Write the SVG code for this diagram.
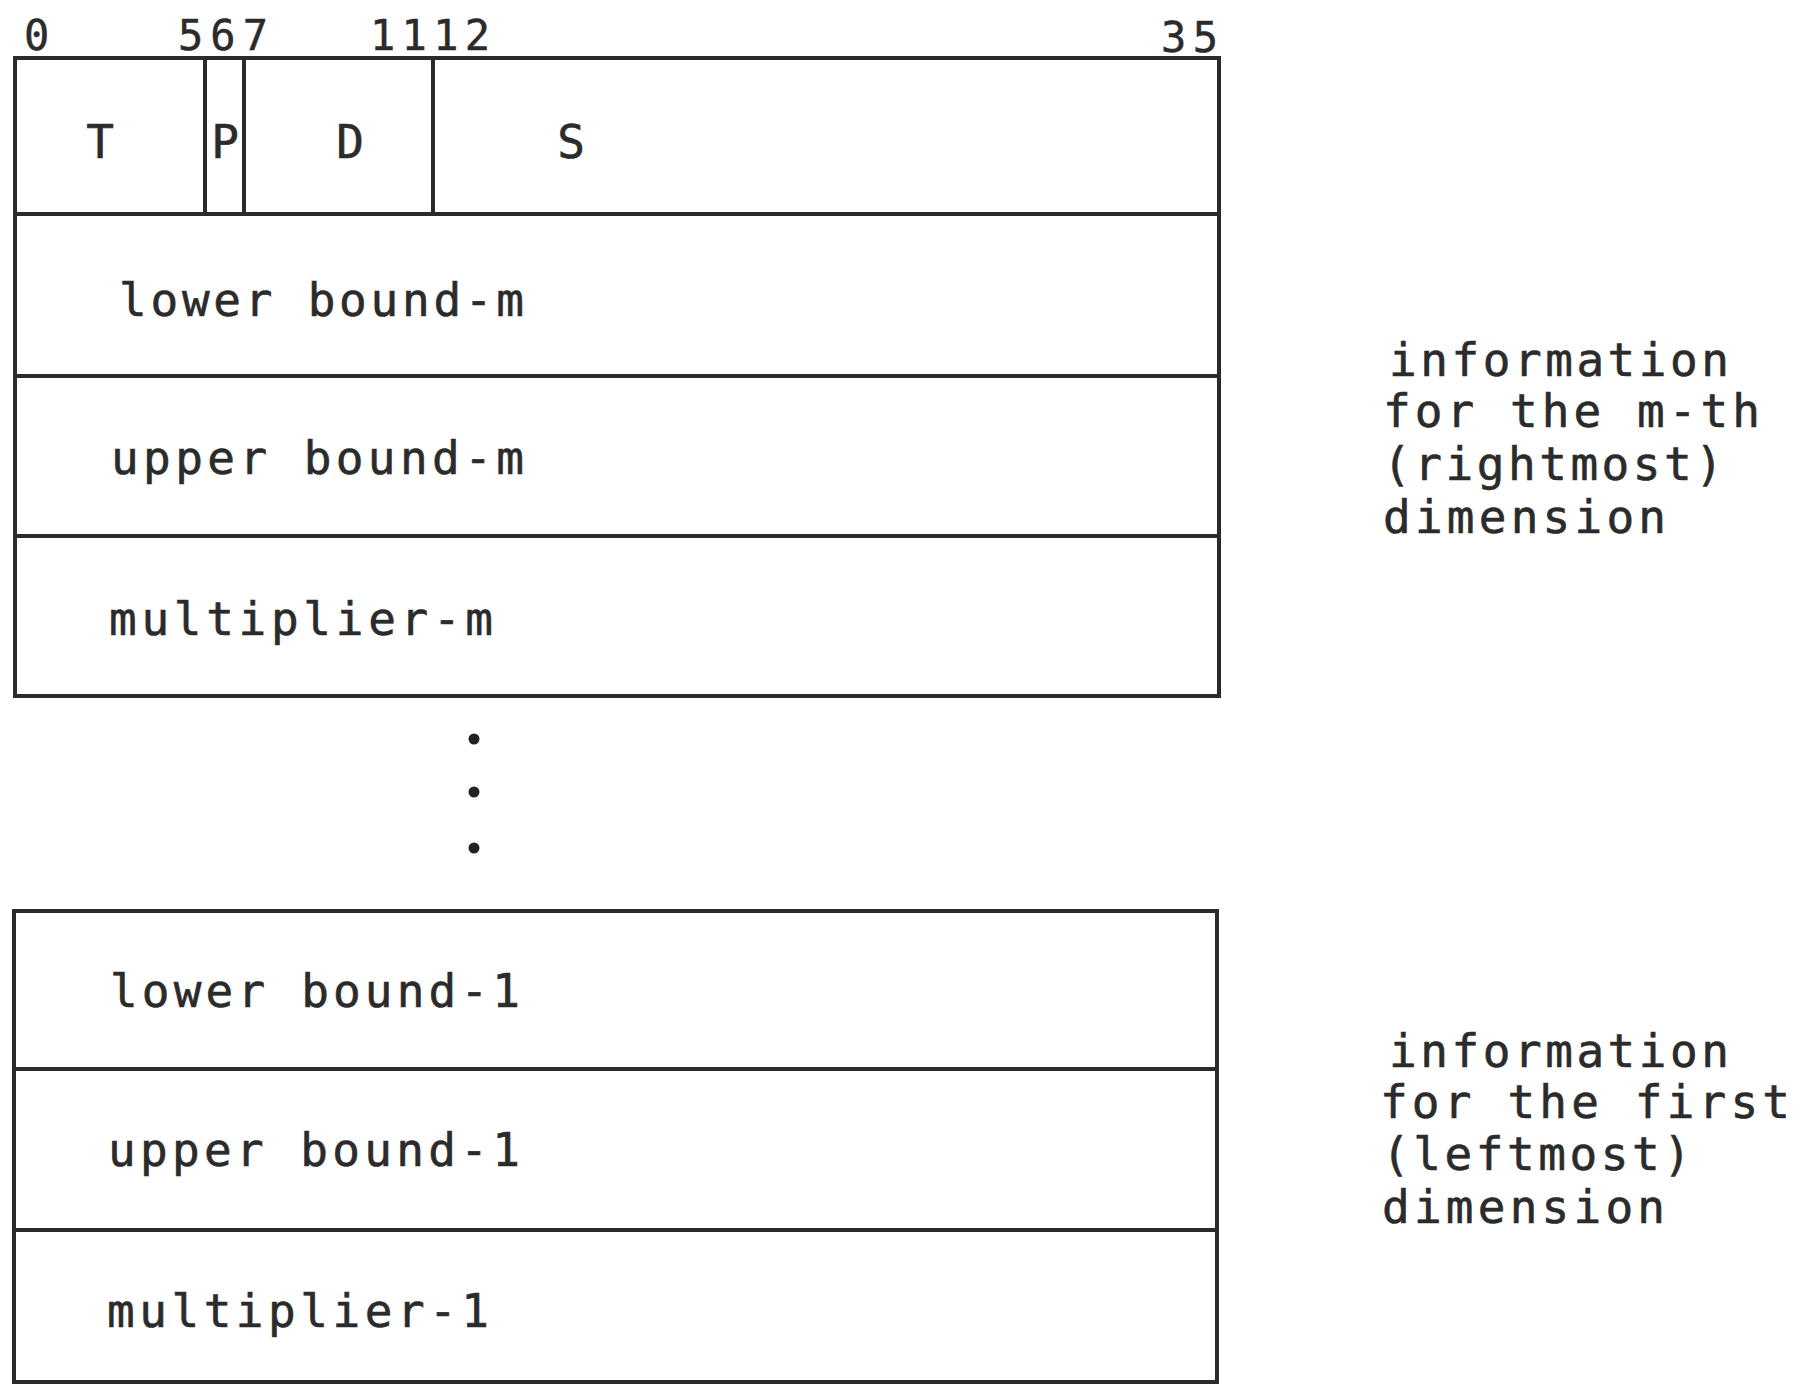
<svg xmlns="http://www.w3.org/2000/svg" width="1797" height="1384" viewBox="0 0 1797 1384">
<style>
.ln{stroke:#2b2b2b;stroke-width:4;fill:none}
.t{font-family:"DejaVu Sans Mono","Liberation Mono",monospace;font-size:46px;fill:#2b2b2b;stroke:#2b2b2b;stroke-width:0.6}
.n{font-family:"DejaVu Sans Mono","Liberation Mono",monospace;font-size:42px;fill:#2b2b2b;stroke:#2b2b2b;stroke-width:0.5}
.dot{fill:#222}
</style>
<rect width="1797" height="1384" fill="#ffffff"/>
<g id="bit-numbers">
<text class="n" x="24" y="50">0</text>
<text class="n" x="178" y="50" textLength="90" lengthAdjust="spacing">567</text>
<text class="n" x="370" y="50" textLength="120" lengthAdjust="spacing">1112</text>
<text class="n" x="1161" y="52" textLength="57" lengthAdjust="spacing">35</text>
</g>
<g id="box-m">
<rect class="ln" x="15" y="58" width="1204" height="638"/>
<line class="ln" x1="15" y1="214" x2="1219" y2="214"/>
<line class="ln" x1="15" y1="376" x2="1219" y2="376"/>
<line class="ln" x1="15" y1="536" x2="1219" y2="536"/>
<line class="ln" x1="205" y1="58" x2="205" y2="214"/>
<line class="ln" x1="244" y1="58" x2="244" y2="214"/>
<line class="ln" x1="433" y1="58" x2="433" y2="214"/>
</g>
<g id="field-T"><text class="t" x="100" y="158" text-anchor="middle">T</text></g>
<g id="field-P"><text class="t" x="225" y="158" text-anchor="middle">P</text></g>
<g id="field-D"><text class="t" x="350" y="158" text-anchor="middle">D</text></g>
<g id="field-S"><text class="t" x="571" y="158" text-anchor="middle">S</text></g>
<g id="lower-m"><text class="t" x="119" y="316" textLength="405" lengthAdjust="spacing">lower bound-m</text></g>
<g id="upper-m"><text class="t" x="111" y="474" textLength="413" lengthAdjust="spacing">upper bound-m</text></g>
<g id="mult-m"><text class="t" x="109" y="635" textLength="384" lengthAdjust="spacing">multiplier-m</text></g>
<g id="dots">
<circle class="dot" cx="474" cy="739" r="5.5"/>
<circle class="dot" cx="474" cy="792" r="5.5"/>
<circle class="dot" cx="474" cy="848" r="5.5"/>
</g>
<g id="box-1">
<rect class="ln" x="14" y="911" width="1203" height="471"/>
<line class="ln" x1="14" y1="1069" x2="1217" y2="1069"/>
<line class="ln" x1="14" y1="1230" x2="1217" y2="1230"/>
</g>
<g id="lower-1"><text class="t" x="110" y="1007" textLength="410" lengthAdjust="spacing">lower bound-1</text></g>
<g id="upper-1"><text class="t" x="108" y="1166" textLength="412" lengthAdjust="spacing">upper bound-1</text></g>
<g id="mult-1"><text class="t" x="107" y="1327" textLength="382" lengthAdjust="spacing">multiplier-1</text></g>
<g id="note-m">
<text class="t" x="1389" y="376" textLength="340" lengthAdjust="spacing">information</text>
<text class="t" x="1383" y="427" textLength="377" lengthAdjust="spacing">for the m-th</text>
<text class="t" x="1383" y="480" textLength="340" lengthAdjust="spacing">(rightmost)</text>
<text class="t" x="1383" y="533" textLength="283" lengthAdjust="spacing">dimension</text>
</g>
<g id="note-1">
<text class="t" x="1389" y="1067" textLength="340" lengthAdjust="spacing">information</text>
<text class="t" x="1380" y="1118" textLength="410" lengthAdjust="spacing">for the first</text>
<text class="t" x="1382" y="1170" textLength="309" lengthAdjust="spacing">(leftmost)</text>
<text class="t" x="1382" y="1223" textLength="283" lengthAdjust="spacing">dimension</text>
</g>
<g id="connectors"></g>
</svg>
